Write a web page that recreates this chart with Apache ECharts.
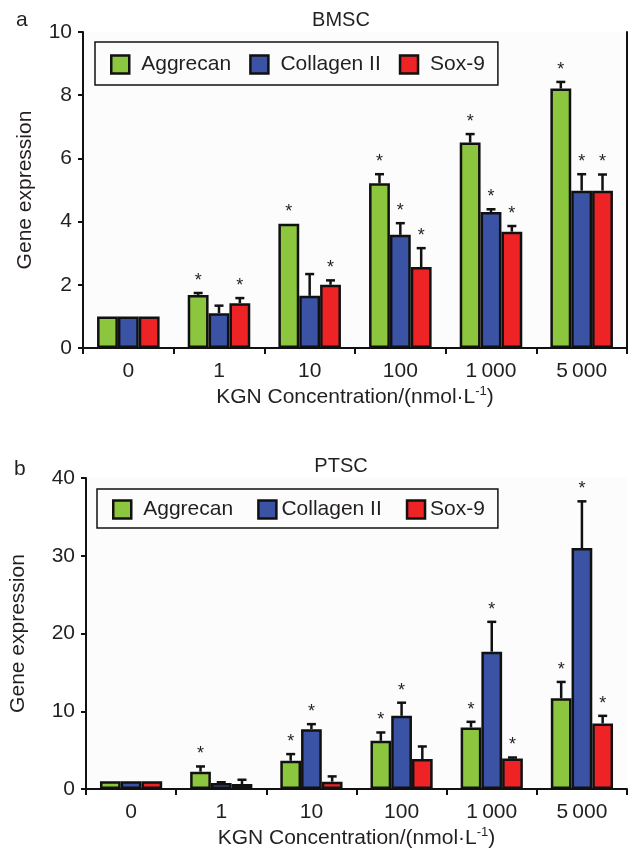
<!DOCTYPE html>
<html>
<head>
<meta charset="utf-8">
<title>KGN gene expression</title>
<script src="https://cdn.jsdelivr.net/npm/echarts@6/dist/echarts.min.js"></script>
<style>
  html, body { margin: 0; padding: 0; background: #fff; }
  #chart { width: 628px; height: 852px; }
</style>
</head>
<body>
<div id="chart"></div>
<script>
// categories (KGN concentration, nmol/L)
const categories = ['0', '1', '10', '100', '1\u2009000', '5\u2009000'];
const seriesNames = ['Aggrecan', 'Collagen II', 'Sox-9'];
const colors = ['#8cc63f', '#3a53a4', '#ee2326'];

// a: BMSC
const bmscAggrecan = [1, 1.68, 3.93, 5.21, 6.5, 8.21];
const bmscAggrecanSd = [0, 0.06, 0, 0.29, 0.27, 0.21];
const bmscAggrecanSig = [0, 1, 1, 1, 1, 1];
const bmscCollagen = [1, 1.1, 1.65, 3.58, 4.3, 4.98];
const bmscCollagenSd = [0, 0.24, 0.69, 0.37, 0.09, 0.52];
const bmscCollagenSig = [0, 0, 0, 1, 1, 1];
const bmscSox = [1, 1.42, 2.0, 2.56, 3.68, 4.98];
const bmscSoxSd = [0, 0.16, 0.14, 0.6, 0.18, 0.51];
const bmscSoxSig = [0, 1, 1, 1, 1, 1];

// b: PTSC
const ptscAggrecan = [1, 2.22, 3.63, 6.2, 7.91, 11.68];
const ptscAggrecanSd = [0, 0.68, 0.86, 1.07, 0.73, 2.09];
const ptscAggrecanSig = [0, 1, 1, 1, 1, 1];
const ptscCollagen = [1, 0.77, 7.7, 9.41, 17.66, 31.0];
const ptscCollagenSd = [0, 0.1, 0.64, 1.69, 3.84, 6.0];
const ptscCollagenSig = [0, 0, 1, 1, 1, 1];
const ptscSox = [1, 0.64, 0.94, 3.85, 3.93, 8.42];
const ptscSoxSd = [0, 0.55, 0.68, 1.62, 0.12, 0.99];
const ptscSoxSig = [0, 0, 0, 0, 1, 1];

const FONT = 'Liberation Sans, Arial, sans-serif';
const TXT = '#231f20';
const GAP = 0.31;

const chart = echarts.init(document.getElementById('chart'));

// error bar + asterisk drawn over each bar
function errRender(idx) {
  return function (params, api) {
    const ci = api.value(0), v = api.value(1), sd = api.value(2), sig = api.value(3);
    const band = api.size([1, 0])[0];
    const barW = band * (1 - GAP) / 3;
    const base = api.coord([ci, v]);
    const x = base[0] + (idx - 1) * barW;
    const yTop = api.coord([ci, v + sd])[1];
    const children = [];
    if (sd > 0) {
      children.push({
        type: 'line',
        shape: { x1: x, y1: base[1], x2: x, y2: yTop },
        style: { stroke: '#111', lineWidth: 2.5 }
      });
      children.push({
        type: 'line',
        shape: { x1: x - 4.5, y1: yTop, x2: x + 4.5, y2: yTop },
        style: { stroke: '#111', lineWidth: 2.5 }
      });
    }
    if (sig) {
      children.push({
        type: 'text',
        style: {
          text: '*', x: x, y: yTop - 3, align: 'center', verticalAlign: 'bottom',
          font: '18px ' + FONT, fill: TXT
        }
      });
    }
    return { type: 'group', children: children };
  };
}

function makeSeries(gi, vals, sds, sigs) {
  const out = [];
  for (let i = 0; i < 3; i++) {
    out.push({
      name: seriesNames[i],
      type: 'bar',
      xAxisIndex: gi,
      yAxisIndex: gi,
      barGap: '0%',
      barCategoryGap: GAP * 100 + '%',
      itemStyle: { color: colors[i], borderColor: '#111', borderWidth: 2.5 },
      data: vals[i]
    });
    out.push({
      name: seriesNames[i] + ' err',
      type: 'custom',
      xAxisIndex: gi,
      yAxisIndex: gi,
      z: 5,
      renderItem: errRender(i),
      data: vals[i].map((v, k) => [k, v, sds[i][k], sigs[i][k]])
    });
  }
  return out;
}

function xAxisOf(gi) {
  return {
    type: 'category',
    gridIndex: gi,
    data: categories,
    axisLine: { lineStyle: { color: '#111', width: 2 } },
    axisTick: { show: true, length: 6, lineStyle: { color: '#111', width: 2 } },
    axisLabel: { color: TXT, fontSize: 21, fontFamily: FONT, margin: 13 },
    name: '{a|KGN Concentration/(nmol·L}{s|-1}{a|)}',
    nameLocation: 'middle',
    nameGap: 37,
    nameTextStyle: {
      rich: {
        a: { fontSize: 21, fontFamily: FONT, color: TXT, lineHeight: 24 },
        s: { fontSize: 13, fontFamily: FONT, color: TXT, verticalAlign: 'top', lineHeight: 24 }
      }
    }
  };
}

function yAxisOf(gi, max, interval, gap) {
  return {
    type: 'value',
    gridIndex: gi,
    min: 0,
    max: max,
    interval: interval,
    splitLine: { show: false },
    axisLine: { show: true, lineStyle: { color: '#111', width: 2 } },
    axisTick: { show: true, length: 5, lineStyle: { color: '#111', width: 2 } },
    axisLabel: { color: TXT, fontSize: 21, fontFamily: FONT, margin: 11 },
    name: 'Gene expression',
    nameLocation: 'middle',
    nameGap: gap,
    nameTextStyle: { color: TXT, fontSize: 21, fontFamily: FONT }
  };
}

function legendOf(gi, top, padding, gap, textPads) {
  return {
    orient: 'horizontal',
    left: gi === 0 ? 95 : 97,
    top: top,
    data: seriesNames.map((n, i) => ({ name: n, textStyle: { padding: textPads[i] } })),
    icon: 'rect',
    itemWidth: 18,
    itemHeight: 18,
    itemGap: gap,
    padding: padding,
    borderColor: '#111',
    borderWidth: 1.5,
    borderRadius: 0,
    itemStyle: { borderColor: '#111', borderWidth: 2.5 },
    textStyle: { color: TXT, fontSize: 21, fontFamily: FONT },
    selectedMode: false
  };
}

chart.setOption({
  animation: false,
  backgroundColor: '#fff',
  title: [
    { text: 'BMSC', left: 341, top: 10, textAlign: 'center', padding: 0,
      textStyle: { color: TXT, fontSize: 20, fontWeight: 'normal', fontFamily: FONT } },
    { text: 'PTSC', left: 341, top: 456, textAlign: 'center', padding: 0,
      textStyle: { color: TXT, fontSize: 20, fontWeight: 'normal', fontFamily: FONT } },
    { text: 'a', left: 16, top: 10, padding: 0,
      textStyle: { color: TXT, fontSize: 21, fontWeight: 'normal', fontFamily: FONT } },
    { text: 'b', left: 14, top: 459, padding: 0,
      textStyle: { color: TXT, fontSize: 21, fontWeight: 'normal', fontFamily: FONT } }
  ],
  legend: [
    legendOf(0, 42, [12, 13, 10, 15], 18, [[0, 0, 0, 7], [0, 0, 0, 7], [0, 0, 0, 7]]),
    legendOf(1, 489, [10, 13, 8, 15], 24, [[0, 0, 0, 7], [0, 0, 0, 0], [0, 0, 0, 0]])
  ],
  grid: [
    { left: 83, right: 1, top: 32, height: 316, show: true, backgroundColor: '#fcfcfc', borderWidth: 0 },
    { left: 85, right: 1, top: 478, height: 311, show: true, backgroundColor: '#fcfcfc', borderWidth: 0 }
  ],
  xAxis: [xAxisOf(0), xAxisOf(1)],
  yAxis: [
    yAxisOf(0, 10, 2, 47),
    yAxisOf(1, 40, 10, 57),
    {
      type: 'value', gridIndex: 0, position: 'right', min: 0, max: 10, interval: 2,
      splitLine: { show: false }, axisTick: { show: false }, axisLabel: { show: false },
      axisLine: { show: true, lineStyle: { color: '#111', width: 2 } }
    }
  ],
  series: [].concat(
    makeSeries(0,
      [bmscAggrecan, bmscCollagen, bmscSox],
      [bmscAggrecanSd, bmscCollagenSd, bmscSoxSd],
      [bmscAggrecanSig, bmscCollagenSig, bmscSoxSig]),
    makeSeries(1,
      [ptscAggrecan, ptscCollagen, ptscSox],
      [ptscAggrecanSd, ptscCollagenSd, ptscSoxSd],
      [ptscAggrecanSig, ptscCollagenSig, ptscSoxSig])
  )
});
</script>
</body>
</html>
